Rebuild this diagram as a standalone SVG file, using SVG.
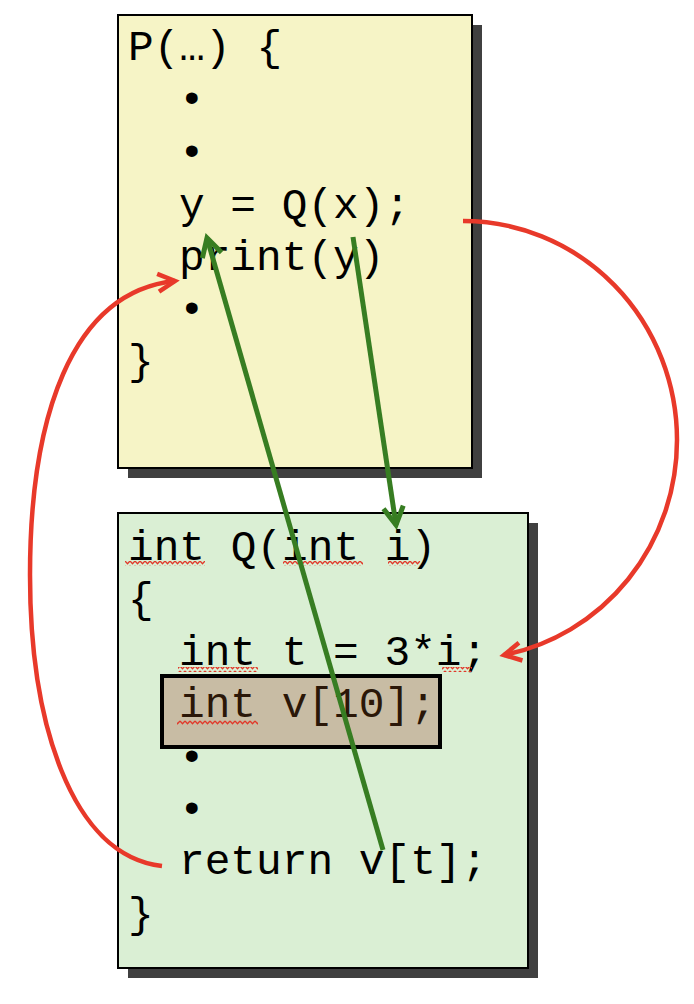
<svg xmlns="http://www.w3.org/2000/svg" width="694" height="1004" viewBox="0 0 694 1004">
<style>
.code{font-family:"Liberation Mono","Courier New",monospace;font-size:42.8px;fill:#000}
.shadow{fill:#404040}
.box{stroke:#000;stroke-width:2}
.red{fill:none;stroke:#e8392a;stroke-width:4.5}
.green{fill:none;stroke:#377d22;stroke-width:5}
</style>
<defs>
<pattern id="sq" width="5" height="5" patternUnits="userSpaceOnUse">
<path d="M0,1 L2.5,3.8 L5,1" fill="none" stroke="#e0392a" stroke-width="1.3"/>
</pattern>
<marker id="ar" markerUnits="userSpaceOnUse" markerWidth="30" markerHeight="30" refX="0" refY="0" viewBox="-20 -15 30 30" orient="auto" overflow="visible">
<path d="M-17,-9 L0,0 L-17,9" fill="none" stroke="#e8392a" stroke-width="4.5" stroke-linejoin="miter"/>
</marker>
<marker id="ag" markerUnits="userSpaceOnUse" markerWidth="30" markerHeight="30" refX="0" refY="0" viewBox="-20 -15 30 30" orient="auto" overflow="visible">
<path d="M-18,-10 L0,0 L-18,10" fill="none" stroke="#377d22" stroke-width="5" stroke-linejoin="miter"/>
</marker>
</defs>
<rect width="694" height="1004" fill="#fff"/>

<g id="nodeP">
<rect class="shadow" x="128" y="25" width="354" height="453"/>
<rect class="box" x="118" y="15" width="354" height="453" fill="#f6f4c6"/>
<text class="code" x="128" y="60">P(…) {</text>
<text class="code" x="179" y="112.4">•</text>
<text class="code" x="179" y="164.8">•</text>
<text class="code" x="179" y="218">y = Q(x);</text>
<text class="code" x="179" y="270">print(y)</text>
<text class="code" x="179" y="322">•</text>
<text class="code" x="128" y="374">}</text>
</g>

<g id="nodeQ">
<rect class="shadow" x="128" y="523" width="410" height="455"/>
<rect class="box" x="118" y="513" width="410" height="455" fill="#daefd4"/>
<text class="code" x="128" y="560">int Q(int i)</text>
<rect x="125" y="561" width="80" height="5" fill="url(#sq)"/>
<rect x="283" y="561" width="80" height="5" fill="url(#sq)"/>
<rect x="388" y="561" width="32" height="5" fill="url(#sq)"/>
<text class="code" x="128" y="612.4">{</text>
<text class="code" x="179" y="664.8">int t = 3*i;</text>
<rect x="178" y="667" width="80" height="5" fill="url(#sq)"/>
<rect x="442" y="667" width="30" height="5" fill="url(#sq)"/>
<g id="nodeV">
<rect x="162" y="676" width="278" height="71" fill="#c8bca4" stroke="#000" stroke-width="4"/>
<text class="code" x="179" y="717.2" style="fill:#2b1708">int v[10];</text>
<rect x="177" y="720" width="81" height="5" fill="url(#sq)"/>
</g>
<text class="code" x="179" y="769.6">•</text>
<text class="code" x="179" y="822">•</text>
<text class="code" x="179" y="874.4">return v[t];</text>
<text class="code" x="128" y="926.8">}</text>
</g>

<g id="connectors">
<path class="red" d="M463,221 A214,219 0 0,1 677,440 A214,219 0 0,1 504,655" marker-end="url(#ar)"/>
<path class="red" d="M162,866 C70,855 30,720 30,575 C30,420 70,292 175,281" marker-end="url(#ar)"/>
<path class="green" d="M353,237 L396,525" marker-end="url(#ag)"/>
<path class="green" d="M383,850 L207,238" marker-end="url(#ag)"/>
</g>
</svg>
